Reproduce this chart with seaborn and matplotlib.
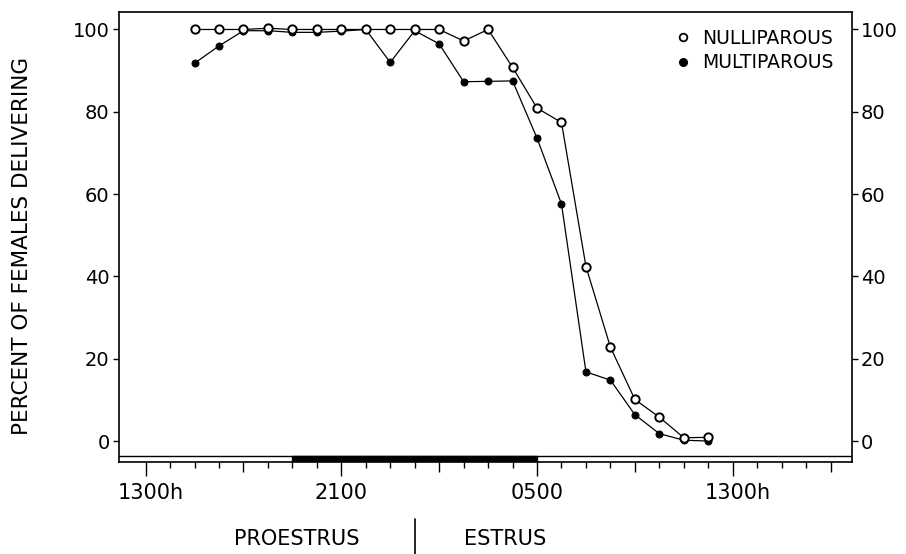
import matplotlib
matplotlib.use('Agg')
import matplotlib.pyplot as plt
import seaborn as sns
import pandas as pd
from matplotlib.lines import Line2D
from matplotlib.patches import Rectangle
from matplotlib.transforms import ScaledTranslation

# hours after 1300h on the day of proestrus
hours = [2, 3, 4, 5, 6, 7, 8, 9, 10, 11, 12,
         13, 14, 15, 16, 17, 18, 19, 20, 21, 22, 23]
nulliparous = [100, 100, 100, 100.3, 100, 100, 100, 100, 100, 100, 100,
               97.2, 100, 90.8, 80.9, 77.4, 42.4, 22.8, 10.1, 5.8, 0.8, 0.9]
multiparous = [91.8, 96.0, 99.7, 99.7, 99.3, 99.3, 99.6, 100, 92.0, 99.7, 96.5,
               87.3, 87.4, 87.5, 73.6, 57.6, 16.8, 14.8, 6.4, 1.8, 0.2, 0]

tick_hours = [0, 4, 8, 12, 16, 20, 24, 28]
tick_labels = ['1300h', '', '2100', '', '0500', '', '1300h', '']
dark_start, dark_end = 6, 16   # lights off 1900 - 0500
midnight = 11

df = pd.DataFrame({'hour': hours, 'NULLIPAROUS': nulliparous, 'MULTIPAROUS': multiparous})

sns.set_style('ticks')
plt.rcParams['font.family'] = ['DejaVu Sans']
plt.rcParams['text.color'] = 'black'
plt.rcParams['xtick.color'] = 'black'
plt.rcParams['ytick.color'] = 'black'

fig, ax = plt.subplots(figsize=(9.06, 5.54), dpi=100)
fig.subplots_adjust(left=0.131, right=0.940, top=0.978, bottom=0.166)

sns.lineplot(data=df, x='hour', y='MULTIPAROUS', ax=ax, color='black', lw=0.9,
             marker='o', markersize=5, markerfacecolor='black',
             markeredgecolor='black', zorder=3)
sns.lineplot(data=df, x='hour', y='NULLIPAROUS', ax=ax, color='black', lw=0.9,
             marker='o', markersize=6, markerfacecolor='white',
             markeredgecolor='black', markeredgewidth=1.4, zorder=4)

ax.set_xlim(-1.1, 28.86)
ax.set_ylim(-5.1, 104.2)

# light/dark bar along the bottom
ax.axhline(-3.7, color='black', lw=1)
ax.add_patch(Rectangle((dark_start, -5.1), dark_end - dark_start, 1.4,
                       color='black', zorder=2))

for side in ['top', 'right', 'left', 'bottom']:
    ax.spines[side].set_visible(True)
    ax.spines[side].set_linewidth(1.2)
    ax.spines[side].set_color('black')

ax.set_yticks([0, 20, 40, 60, 80, 100])
ax.tick_params(axis='y', which='major', left=True, right=True, labelright=True,
               length=4.5, width=1, labelsize=14, pad=2, colors='black')

ax.set_xticks(tick_hours)
ax.set_xticklabels(tick_labels)
ax.set_xticks([h for h in range(0, 29) if h % 4 != 0], minor=True)
ax.tick_params(axis='x', which='major', length=10, width=1, labelsize=15, pad=5)
ax.tick_params(axis='x', which='minor', length=4, width=1)
for t, lab in zip(ax.xaxis.get_major_ticks(), tick_labels):
    if lab == '':
        t.tick1line.set_markersize(7)
    if lab.endswith('h'):
        t.label1.set_transform(t.label1.get_transform() +
                               ScaledTranslation(0.05, 0, fig.dpi_scale_trans))

ax.set_xlabel('')
ax.set_ylabel('')
fig.text(22 / 906, 1 - 246 / 554, 'PERCENT OF FEMALES DELIVERING', rotation=90,
         ha='center', va='center', fontsize=15.5)

handles = [Line2D([], [], ls='none', marker='o', markersize=5.5, markerfacecolor='white',
                  markeredgecolor='black', markeredgewidth=1.3),
           Line2D([], [], ls='none', marker='o', markersize=5.5, color='black')]
ax.legend(handles, ['NULLIPAROUS', 'MULTIPAROUS'], loc='upper right', frameon=False,
          fontsize=13.5, handlelength=0.8, handletextpad=0.6, labelspacing=0.3,
          borderaxespad=0.2, bbox_to_anchor=(0.99, 0.988))

# phase labels under the axis
fig.text(297 / 906, 1 - 539 / 554, 'PROESTRUS', ha='center', va='center', fontsize=15)
fig.text(505 / 906, 1 - 539 / 554, 'ESTRUS', ha='center', va='center', fontsize=15)
x_mid = ax.transData.transform((midnight, 0))[0] / fig.bbox.width
fig.add_artist(Line2D([x_mid, x_mid], [1 - 519 / 554, 0], color='black', lw=1.2,
                      transform=fig.transFigure))

fig.savefig('out.png', dpi=100)
